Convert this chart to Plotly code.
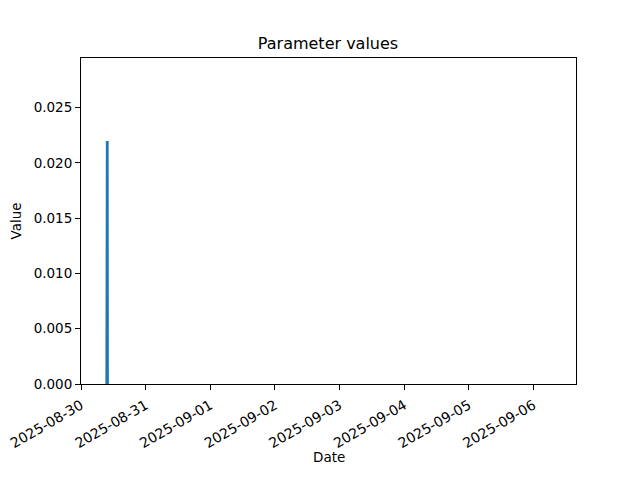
import plotly.graph_objects as go

# parameter readings
dates = ["2025-08-30 09:35", "2025-08-30 09:40", "2025-08-30 09:45", "2025-08-30 09:50"]
values = [0.0, 0.022, 0.022, 0.0]

x_range = ["2025-08-30 00:00", "2025-09-06 15:50"]
y_range = [0, 0.0295]
y_ticks = [0, 0.005, 0.010, 0.015, 0.020, 0.025]

fig = go.Figure()
fig.add_trace(go.Scatter(
    x=dates,
    y=values,
    mode='lines',
    line=dict(color='#1f77b4', width=2.8),
    showlegend=False
))

axis_style = dict(
    showline=True,
    linecolor='black',
    linewidth=1,
    mirror=True,
    ticks='outside',
    ticklen=5,
    tickwidth=1,
    tickcolor='black',
    showgrid=False,
    zeroline=False,
    automargin=False,
    tickfont=dict(size=13.5, color='black'),
)

# the page has an 8px body margin, so the margins are trimmed by that much
fig.update_layout(
    width=640,
    height=480,
    margin=dict(l=73, r=72, t=50, b=104),
    paper_bgcolor='white',
    plot_bgcolor='white',
    font=dict(family='DejaVu Sans', color='black'),
    title=dict(text='Parameter values', x=0.5, xanchor='center',
               y=0.927, yanchor='middle', font=dict(size=16)),
    xaxis=dict(
        axis_style,
        type='date',
        range=x_range,
        dtick=86400000,
        tick0='2025-08-30',
        tickformat='%Y-%m-%d',
        tickangle=-30,
        tickfont=dict(size=14, color='black'),
        ticklabelstandoff=2,
        ticklabeloverflow='allow',
    ),
    yaxis=dict(
        axis_style,
        range=y_range,
        tickvals=y_ticks,
        tickformat='.3f',
        title=dict(text='Value', font=dict(size=13.5), standoff=10),
    ),
)

# x axis label placed by hand, matplotlib puts it closer to the rotated labels
fig.add_annotation(text='Date', xref='paper', yref='paper', x=0.5, y=-0.224,
                   xanchor='center', yanchor='middle', showarrow=False,
                   font=dict(size=13.5))

fig.write_html("out.html")
